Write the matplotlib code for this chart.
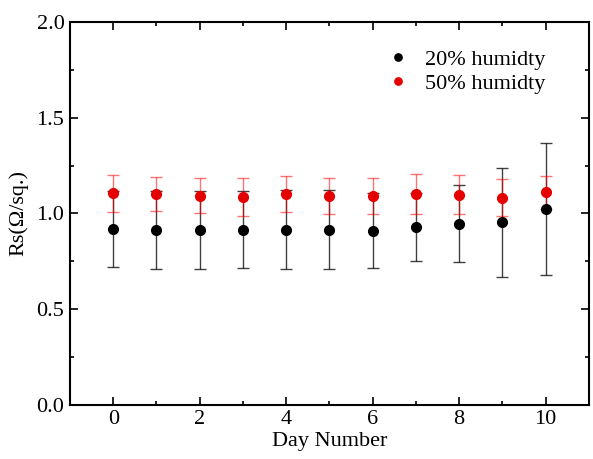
import matplotlib
matplotlib.use("Agg")
import matplotlib.pyplot as plt
from matplotlib.ticker import MultipleLocator

plt.rcParams['font.family'] = ['Liberation Serif', 'DejaVu Serif']

days = [0, 1, 2, 3, 4, 5, 6, 7, 8, 9, 10]
rs_20 = [0.919, 0.912, 0.912, 0.914, 0.914, 0.914, 0.910, 0.930, 0.947, 0.953, 1.022]
err_20 = [0.197, 0.204, 0.204, 0.201, 0.206, 0.206, 0.197, 0.178, 0.200, 0.283, 0.345]
rs_50 = [1.105, 1.102, 1.093, 1.084, 1.102, 1.093, 1.093, 1.100, 1.097, 1.083, 1.110]
err_50 = [0.095, 0.089, 0.092, 0.100, 0.095, 0.094, 0.094, 0.104, 0.102, 0.095, 0.085]

fig, ax = plt.subplots(figsize=(5.93, 4.59), dpi=100)
fig.subplots_adjust(left=0.118, right=0.993, top=0.952, bottom=0.118)

ax.errorbar(days, rs_20, yerr=err_20, fmt="none", ecolor="black", elinewidth=1,
            capsize=4, capthick=1, alpha=0.75)
ax.errorbar(days, rs_50, yerr=err_50, fmt="none", ecolor="red", elinewidth=1,
            capsize=4, capthick=1, alpha=0.55)
ax.plot(days, rs_20, "o", color="black", markersize=7, label="20% humidty")
ax.plot(days, rs_50, "o", color="#e50000", markersize=7, label="50% humidty")

ax.set_xlim(-1, 11)
ax.set_ylim(0, 2.0)
ax.xaxis.set_major_locator(MultipleLocator(2))
ax.xaxis.set_minor_locator(MultipleLocator(1))
ax.yaxis.set_major_locator(MultipleLocator(0.5))
ax.yaxis.set_minor_locator(MultipleLocator(0.25))
ax.yaxis.set_major_formatter(plt.FormatStrFormatter("%.1f"))
ax.tick_params(which="both", direction="in", top=True, right=True, labelsize=16, width=1.2)
ax.tick_params(which="major", length=6, pad=4)
ax.tick_params(which="minor", length=3)
for s in ax.spines.values():
    s.set_linewidth(1.5)

ax.set_xlabel("Day Number", fontsize=16, labelpad=2)
ax.set_ylabel("Rs(Ω/sq.)", fontsize=16, labelpad=6)

ax.legend(loc="upper right", bbox_to_anchor=(0.955, 0.98), frameon=False, fontsize=16,
          markerscale=0.75, handletextpad=0.7, labelspacing=0.15, handlelength=1.0)

fig.savefig("out.png", dpi=100)
